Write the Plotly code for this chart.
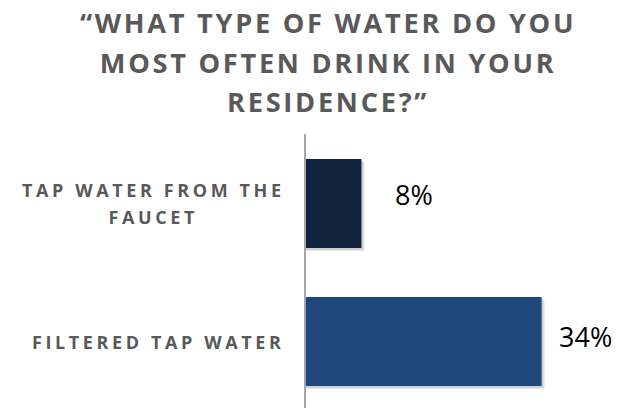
import plotly.graph_objects as go

# Survey answers (share of respondents, %)
categories = ["TAP WATER FROM THE\nFAUCET", "FILTERED TAP WATER"]
values = [8, 34]
value_labels = ["8%", "34%"]
bar_colors = ["#12253F", "#1F497D"]

title_lines = ["\u201cWHAT TYPE OF WATER DO YOU", "MOST OFTEN DRINK IN YOUR", "RESIDENCE?\u201d"]

W, H = 632, 408
M_L, M_T = 306, 134
PLOT_W, PLOT_H = W - M_L, H - M_T
PX_PER_UNIT = 6.93
X_MAX = PLOT_W / PX_PER_UNIT
Y_RANGE = [1.482, -0.504]
BAR_W = 0.645

GRAY = "#595959"
FONT = "Open Sans"


def spaced(s, gap):
    """Widen tracking by putting narrow spaces between the letters."""
    words = s.split(" ")
    return (gap + " " + gap).join(gap.join(w) for w in words)


def styled_lines(lines, size, gap):
    return "<br>".join(
        f"<span style='font-size:{size}px'>{spaced(l, gap)}</span>" for l in lines
    )


def py_paper(px):
    return (H - px) / PLOT_H


def px_paper_x(px):
    return (px - M_L) / PLOT_W


ypos = list(range(len(categories)))

fig = go.Figure()
fig.add_trace(go.Bar(
    x=values, y=ypos, orientation="h", width=BAR_W,
    marker=dict(color=bar_colors, line=dict(width=0)),
    hoverinfo="skip",
))

# soft drop shadow behind each bar
sx, sy = 3 / PX_PER_UNIT, 3 / 138
for i, v in zip(ypos, values):
    for k, a in ((1.0, 0.10), (0.6, 0.10)):
        fig.add_shape(type="rect", xref="x", yref="y", layer="below",
                      x0=0, x1=v + sx * k, y0=i - BAR_W / 2 + sy * k, y1=i + BAR_W / 2 + sy * k,
                      fillcolor=f"rgba(0,0,0,{a})", line=dict(width=0))

annotations = []
# value labels
label_dx = [32, 15]
label_dy = [9, 5]
for i, v, t, dx, dy in zip(ypos, values, value_labels, label_dx, label_dy):
    annotations.append(dict(x=v, y=i, xref="x", yref="y", text=t, showarrow=False,
                            xanchor="left", yanchor="middle", xshift=dx, yshift=dy,
                            font=dict(family=FONT, size=27, color="#000000")))

# category labels, centred lines, right edge left of the axis
for i, c in zip(ypos, categories):
    annotations.append(dict(x=px_paper_x(283), y=i, xref="paper", yref="y",
                            text=styled_lines(c.split("\n"), 18, "\u200a\u200a"),
                            showarrow=False, xanchor="right", yanchor="middle", align="center",
                            font=dict(family=FONT, size=20.8, color=GRAY, weight="bold")))

# title
annotations.append(dict(x=px_paper_x(326), y=py_paper(2), xref="paper", yref="paper",
                        text=styled_lines(title_lines, 27.2, "\u200a"),
                        showarrow=False, xanchor="center", yanchor="top", align="center",
                        font=dict(family=FONT, size=30.4, color=GRAY, weight="bold")))

fig.update_layout(
    width=W, height=H,
    margin=dict(l=M_L, r=0, t=M_T, b=0, pad=0),
    paper_bgcolor="white", plot_bgcolor="white",
    showlegend=False,
    xaxis=dict(range=[0, X_MAX], visible=False, fixedrange=True),
    yaxis=dict(range=Y_RANGE, showticklabels=False, ticks="", showgrid=False, zeroline=False,
               showline=True, linecolor="#A6A6A6", linewidth=2, fixedrange=True),
    annotations=annotations,
)

fig.write_html("out.html", config=dict(displayModeBar=False))
